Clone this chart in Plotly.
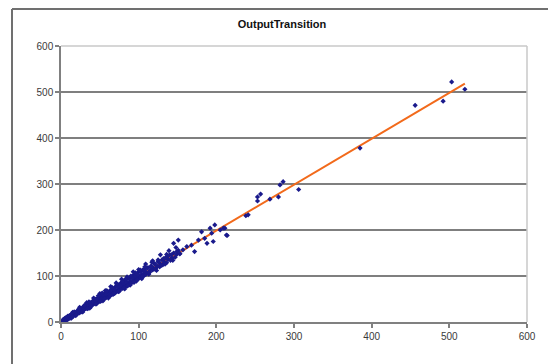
import plotly.graph_objects as go

title = "OutputTransition"

# dense cluster
cluster_x = [2,3,4,5,6,6,7,8,9,9,10,11,12,12,13,14,15,16,16,17,18,19,20,21,21,22,23,24,25,26,26,27,28,29,30,
             31,32,33,33,34,35,36,37,38,39,40,41,42,43,44,45,46,47,48,49,50,51,52,53,54,55,56,57,58,59,60,61,62,63,64,65,66,67,68,69,70,
             71,72,73,74,75,76,77,78,79,80,81,82,83,84,85,86,87,88,89,90,91,92,93,94,95,96,97,98,99,100,101,102,103,104,105,106,107,108,109,110,
             112,113,115,116,118,119,121,122,124,125,127,128,130,131,133,135,136,138,140,141,143,145,147,149,151,153,
             8,11,14,18,22,25,29,31,35,38,41,44,47,52,55,58,62,65,68,73,77,80,84,88,92,95,99,103,107,111,116,120,126,132,137,
             15,19,24,28,33,37,42,46,50,54,57,61,64,67,71,74,78,82,85,89,93,97,100,104,109,113,118,123,128,134,139,144,148,
             5,9,13,17,20,23,27,30,34,36,39,43,45,48,51,53,56,59,63,66,69,72,75,79,81,83,86,90,94,96,98,102,105,108,114,117,121,125,129,136,142,
             3,4,6,7,8,10,11,13,14,15]
cluster_y = [2,4,3,5,7,4,8,6,10,7,11,9,14,10,12,15,13,18,14,16,21,16,19,24,18,21,26,20,25,29,23,25,32,26,28,
             35,29,31,38,33,30,40,35,34,43,37,39,47,40,42,50,41,46,53,44,48,56,47,52,59,50,54,62,53,57,66,56,60,68,58,63,72,61,66,75,64,
             69,79,67,72,82,70,76,86,73,79,89,76,81,92,78,84,95,82,88,98,85,90,101,88,93,104,90,96,107,94,99,110,97,102,113,100,105,116,103,108,
             118,107,112,122,113,117,126,116,121,131,120,126,135,124,130,140,129,136,146,134,139,150,141,147,156,148,
             10,12,17,17,25,27,28,35,37,39,45,46,51,50,59,61,60,70,71,78,80,85,87,94,97,101,103,109,111,117,119,127,130,138,142,
             21,14,32,22,42,30,52,40,62,46,68,52,77,60,85,66,93,72,98,80,109,89,114,94,126,104,133,112,146,126,155,134,162,
             8,13,10,22,16,28,22,36,29,44,34,50,39,57,45,63,50,68,57,75,62,82,67,88,74,93,79,100,86,107,92,113,98,120,108,130,115,135,123,147,137,
             6,1,9,3,11,7,14,8,18,11]

# sparser points along the upper part
sparse_x = [134,142,145,149,151,153,157,162,168,172,177,181,185,188,192,194,196,198,205,211,213,
            209,214,238,241,253,253,257,269,280,282,286,306,385,456,492,503,520]
sparse_y = [138,146,171,153,178,149,157,164,167,153,178,196,182,171,204,193,175,211,200,204,189,
            204,188,231,233,263,272,278,267,272,298,305,288,378,471,480,522,506]

# linear trend line end points
trend_x = [2, 520]
trend_y = [1, 518]

x_ticks = [0, 100, 200, 300, 400, 500, 600]
y_ticks = [0, 100, 200, 300, 400, 500, 600]

# page has an 8px body margin; figure is sized to fit inside the window
W, H = 548, 356
L, R, T, B = 53, 29, 38, 42
pw, ph = W - L - R, H - T - B

def px(xp):  # page x -> paper
    return (xp - 8 - L) / pw

def py(yp):  # page y -> paper
    return (H - B - (yp - 8)) / ph

frame = dict(color="#707070", width=2)

fig = go.Figure()
fig.add_trace(go.Scatter(x=trend_x, y=trend_y, mode="lines",
                         line=dict(color="#f26a1b", width=2), showlegend=False))
fig.add_trace(go.Scatter(x=cluster_x + sparse_x, y=cluster_y + sparse_y, mode="markers",
                         marker=dict(symbol="diamond", size=4, color="#1a1a8c"),
                         showlegend=False, hoverinfo="skip"))

fig.update_layout(
    width=W, height=H,
    margin=dict(l=L, r=R, t=T, b=B),
    paper_bgcolor="white", plot_bgcolor="white",
    font=dict(family="Liberation Sans, Arial", size=10, color="#3a3a3a"),
    title=dict(text="<b>" + title + "</b>", x=0.5, xanchor="center",
               y=1 - 16 / H, yanchor="middle", font=dict(size=11, color="#111111")),
    xaxis=dict(range=[0, 600], tickvals=x_ticks, showgrid=False, zeroline=False,
               showline=True, linecolor="#808080", linewidth=1.5,
               ticks="outside", ticklen=4, tickcolor="#808080", tickwidth=1.5),
    yaxis=dict(range=[0, 600], tickvals=y_ticks, showgrid=True, gridcolor="#7f7f7f", gridwidth=1.5,
               zeroline=False, showline=True, linecolor="#808080", linewidth=1.5,
               ticks="outside", ticklen=4, tickcolor="#808080", tickwidth=1.5),
    shapes=[
        dict(type="line", xref="paper", yref="paper", x0=0, x1=1, y0=1, y1=1,
             line=dict(color="#c8c8c8", width=1.5), layer="above"),
        dict(type="line", xref="paper", yref="paper", x0=1, x1=1, y0=0, y1=1,
             line=dict(color="#c8c8c8", width=1.5), layer="above"),
        dict(type="line", xref="paper", yref="paper", x0=px(12), x1=px(12), y0=py(9), y1=py(370), line=frame),
        dict(type="line", xref="paper", yref="paper", x0=px(550), x1=px(550), y0=py(9), y1=py(370), line=frame),
        dict(type="line", xref="paper", yref="paper", x0=px(12), x1=px(550), y0=py(9), y1=py(9), line=frame),
    ],
)

fig.write_html("out.html")
